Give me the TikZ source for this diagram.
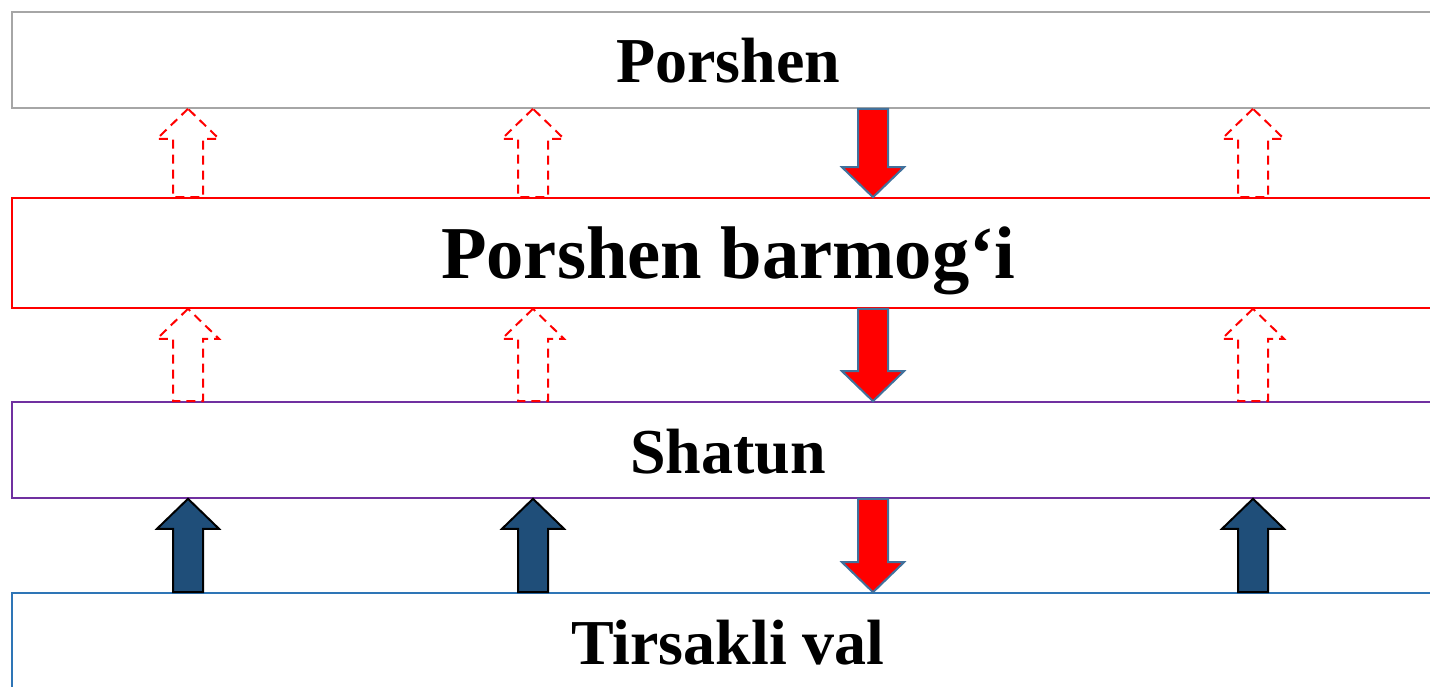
\documentclass[tikz,border=0pt]{standalone}
\usepackage{fontspec}
\setmainfont{Liberation Serif}
\usetikzlibrary{calc}

\definecolor{boxgray}{RGB}{166,166,166}
\definecolor{boxpurple}{RGB}{112,48,160}
\definecolor{boxblue}{RGB}{46,117,182}
\definecolor{arrowedge}{RGB}{65,113,156}
\definecolor{arrowfill}{RGB}{31,78,121}

% block arrow: #1 style, #2 column, #3 tail side, #4 tip side
\newcommand{\blockarrow}[4]{%
  \path (#2 |- #3) coordinate (tail) (#2 |- #4) coordinate (tip);
  \path ($(tip)!15pt!(tail)$) coordinate (neck);
  \draw[#1] (tip) -- ([xshift=-15.5pt]neck) -- ([xshift=-7.5pt]neck)
    -- ([xshift=-7.5pt]tail) -- ([xshift=7.5pt]tail)
    -- ([xshift=7.5pt]neck) -- ([xshift=15.5pt]neck) -- cycle;
}

\begin{document}
\begin{tikzpicture}[
            x=0.5pt, y=-0.5pt,
            box/.style={draw, rectangle, inner sep=0pt, line width=0.8pt,
              minimum width=716pt, minimum height=48pt, text depth=0pt,
              font=\bfseries\fontsize{32}{38}\selectfont},
            ghost/.style={draw=red, line width=1pt, dash pattern=on 4.5pt off 3pt},
            push/.style={draw=arrowedge, fill=red, line width=1pt},
            lift/.style={draw=black, fill=arrowfill, line width=1pt}
        ]

            \clip (0,0) rectangle (1430,686);

            % --- Blocks ---
            \node[box, draw=boxgray, text height=22pt] (porshen) at (728,60) {Porshen};
            \node[box, draw=red, minimum height=55pt, text height=25pt,
              font=\bfseries\fontsize{37.3}{44}\selectfont] (barmoq) at (728,253) {Porshen barmog‘i};
            \node[box, draw=boxpurple, text height=23pt] (shatun) at (728,450) {Shatun};
            \node[box, draw=boxblue, text height=23pt] (val) at (728,641) {Tirsakli val};

            % --- Columns of the arrows ---
            \coordinate (colA) at (188,0);
            \coordinate (colB) at (533,0);
            \coordinate (colC) at (1253,0);
            \coordinate (colD) at (873,0);

            % --- Dashed arrows (upwards) ---
            \foreach \c in {colA, colB, colC} {
                \blockarrow{ghost}{\c}{barmoq.north}{porshen.south}
                \blockarrow{ghost}{\c}{shatun.north}{barmoq.south}
            }

            % --- Filled arrows ---
            \blockarrow{push}{colD}{porshen.south}{barmoq.north}
            \blockarrow{push}{colD}{barmoq.south}{shatun.north}
            \blockarrow{push}{colD}{shatun.south}{val.north}
            \foreach \c in {colA, colB, colC}
                \blockarrow{lift}{\c}{val.north}{shatun.south};

    \end{tikzpicture}
\end{document}
